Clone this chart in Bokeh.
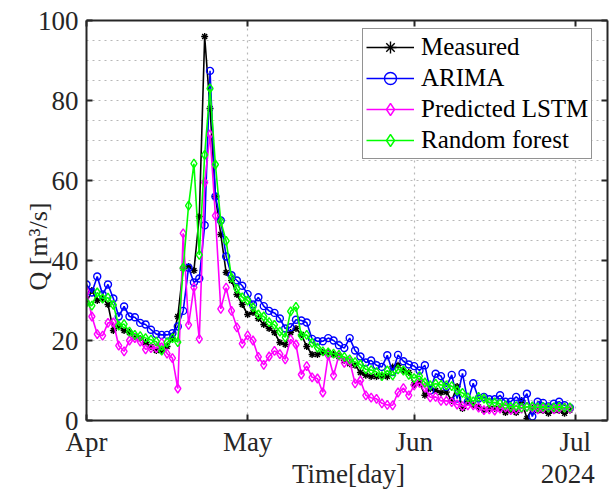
import pandas as pd
from bokeh.plotting import figure
from bokeh.models import (DatetimeAxis, LinearAxis, FixedTicker, Legend, LegendItem,
                          CustomJSTickFormatter)
from bokeh.embed import file_html
from bokeh.resources import INLINE

# ---------------- data ----------------
start_date = "2024-04-01"
n_days = 91
month_ticks = ["2024-04-01", "2024-05-01", "2024-06-01", "2024-07-01"]
month_labels = ["Apr", "May", "Jun", "Jul"]
# second text row: x-axis title and year
title_ticks = ["2024-05-19 19:00", "2024-06-29 14:00"]
title_labels = ["Time[day]", "2024"]
y_ticks = [0, 20, 40, 60, 80, 100]
y_title = "Q [m\u00b3/s]"
series_names = ["Measured", "ARIMA", "Predicted LSTM", "Random forest"]

measured = [29.5, 32.5, 30.0, 30.5, 29.0, 22.5, 23.5, 22.5, 22.0, 21.0,
            20.5, 19.5, 18.5, 17.5, 17.5, 18.5, 20.5, 26.0, 38.0, 38.5,
            37.5, 51.0, 96.0, 78.0, 56.0, 46.5, 37.0, 35.0, 31.5, 29.0,
            26.5, 27.0, 25.5, 24.0, 23.0, 22.0, 19.5, 19.0, 22.0, 23.0,
            21.5, 18.5, 16.5, 16.5, 17.0, 17.0, 16.5, 16.0, 15.0, 14.2,
            13.8, 12.0, 11.3, 11.0, 11.0, 11.2, 11.0, 13.4, 13.8, 12.5,
            12.0, 9.0, 9.5, 6.3, 8.0, 7.5, 7.0, 7.1, 5.0, 8.5,
            3.0, 4.7, 4.0, 3.4, 2.6, 3.0, 3.0, 3.0, 2.0, 2.5,
            2.0, 5.0, 0.5, 3.0, 2.5, 2.5, 1.8, 2.5, 2.5, 1.8, 2.6]

arima = [34.0, 32.0, 36.0, 31.5, 34.0, 30.5, 26.0, 28.5, 26.0, 25.8,
         24.4, 24.0, 22.7, 21.6, 21.4, 21.4, 21.8, 23.5, 27.4, 38.2,
         34.5, 35.5, 48.8, 87.4, 56.0, 50.0, 41.0, 36.3, 35.0, 33.7,
         31.6, 29.0, 30.8, 28.6, 27.4, 26.9, 25.5, 23.0, 23.3, 25.2,
         25.0, 24.5, 20.4, 19.8, 19.8, 20.6, 20.0, 18.8, 18.1, 20.6,
         17.5, 16.0, 14.5, 15.0, 13.8, 13.4, 16.3, 12.1, 16.4, 14.8,
         14.0, 13.6, 12.5, 13.8, 7.5, 11.7, 11.1, 8.4, 11.4, 5.5,
         11.8, 4.7, 9.3, 5.5, 5.9, 5.3, 5.3, 6.3, 4.7, 4.7,
         5.9, 4.7, 6.7, 1.0, 4.7, 4.4, 3.5, 4.2, 4.7, 3.8, 3.2]

lstm = [32.2, 26.0, 21.6, 21.2, 24.4, 24.5, 18.7, 17.3, 20.0, 20.6,
        19.7, 17.8, 18.1, 18.1, 19.4, 16.7, 15.6, 8.0, 46.8, 23.9,
        33.3, 20.4, 59.5, 71.5, 51.2, 27.9, 33.2, 27.4, 23.3, 19.2,
        21.3, 20.0, 15.9, 13.9, 16.0, 17.4, 16.6, 15.3, 20.3, 19.0,
        11.5, 13.6, 10.8, 10.5, 7.0, 16.3, 11.3, 16.3, 14.4, 14.8,
        9.3, 10.0, 6.3, 5.7, 5.4, 4.3, 3.9, 3.8, 7.0, 8.1,
        6.3, 8.8, 9.4, 8.2, 5.8, 5.9, 4.9, 4.9, 4.6, 4.0,
        3.6, 3.8, 3.8, 3.2, 2.6, 2.8, 2.5, 3.0, 3.2, 2.6,
        2.8, 3.0, 3.4, 3.2, 2.8, 3.0, 3.2, 2.8, 3.0, 3.2, 3.0]

rf = [29.5, 28.7, 32.0, 30.5, 30.7, 28.9, 23.7, 24.1, 22.2, 21.4,
      21.1, 20.6, 20.2, 19.7, 17.5, 19.5, 20.6, 19.6, 38.2, 53.7,
      64.2, 41.4, 66.4, 83.0, 64.0, 49.8, 44.9, 35.7, 32.9, 30.8,
      30.0, 28.3, 26.5, 26.0, 24.6, 23.9, 22.2, 20.8, 27.3, 28.4,
      21.2, 21.4, 19.4, 18.2, 17.3, 17.0, 16.7, 16.4, 15.9, 15.3,
      14.6, 14.0, 12.8, 12.6, 12.1, 11.1, 12.5, 11.3, 12.8, 12.5,
      11.4, 10.6, 11.1, 9.5, 8.8, 9.2, 8.9, 8.8, 8.6, 7.5,
      6.9, 5.8, 4.8, 5.9, 5.5, 4.5, 4.5, 4.2, 3.8, 3.4,
      3.6, 3.2, 3.4, 3.5, 3.3, 3.4, 3.2, 3.3, 3.4, 3.2, 3.3]

dates = pd.date_range(start_date, periods=n_days, freq="D")

# ---------------- figure ----------------
FONT = "Liberation Serif"
AX = "#262626"

x_start = pd.Timestamp("2024-04-01")
x_end = pd.Timestamp("2024-07-07")
tick_ms = [pd.Timestamp(t).timestamp() * 1000 for t in month_ticks]
title_ms = [pd.Timestamp(t).timestamp() * 1000 for t in title_ticks]

p = figure(width=609, height=491, x_axis_type="datetime",
           x_range=(x_start, x_end), y_range=(0, 100),
           output_backend="svg", toolbar_location=None,
           min_border_left=86, min_border_right=2, min_border_top=20,
           min_border_bottom=69)
p.outline_line_color = None
p.background_fill_color = "white"
p.border_fill_color = "white"

month_fmt = CustomJSTickFormatter(args=dict(labels=month_labels),
                                  code="return labels[index];")
title_fmt = CustomJSTickFormatter(args=dict(labels=title_labels),
                                  code="return labels[index];")
blank_fmt = CustomJSTickFormatter(code="return '';")

def style_axis(ax, show_labels=True, size="27px"):
    ax.axis_line_color = AX
    ax.axis_line_width = 2
    ax.major_tick_line_color = AX
    ax.major_tick_line_width = 2
    ax.major_tick_in = 6
    ax.major_tick_out = 0
    ax.minor_tick_in = 0
    ax.minor_tick_out = 0
    ax.major_label_text_font = FONT
    ax.major_label_text_color = AX
    ax.axis_label_text_font = FONT
    ax.axis_label_text_font_style = "normal"
    ax.axis_label_text_color = AX
    if show_labels:
        ax.major_label_text_font_size = size
    else:
        ax.formatter = blank_fmt
        ax.major_label_text_font_size = "0px"
        ax.major_label_standoff = 0

# bottom axis: line + inward tick marks only
xb = p.xaxis[0]
xb.ticker = FixedTicker(ticks=tick_ms)
style_axis(xb, show_labels=False)

# row 1 under the axis: month names
xm = DatetimeAxis(ticker=FixedTicker(ticks=tick_ms), formatter=month_fmt)
style_axis(xm)
xm.axis_line_color = None
xm.major_tick_line_color = None
xm.major_label_standoff = 6
xm.major_label_text_line_height = 1.0
p.add_layout(xm, "below")

# row 2: axis title and year
xy = DatetimeAxis(ticker=FixedTicker(ticks=title_ms), formatter=title_fmt)
style_axis(xy)
xy.axis_line_color = None
xy.major_tick_line_color = None
xy.major_label_standoff = -1
xy.major_label_text_line_height = 1.0
p.add_layout(xy, "below")

yl = p.yaxis[0]
yl.ticker = FixedTicker(ticks=y_ticks)
style_axis(yl)
yl.major_label_standoff = 8
yl.axis_label = y_title + "\u00a0" * 8
yl.axis_label_text_font_size = "26px"
yl.axis_label_standoff = -18

xt = DatetimeAxis(ticker=FixedTicker(ticks=tick_ms))
style_axis(xt, show_labels=False)
p.add_layout(xt, "above")

yr = LinearAxis(ticker=FixedTicker(ticks=y_ticks))
style_axis(yr, show_labels=False)
p.add_layout(yr, "right")

# grids (dotted)
p.xgrid.ticker = FixedTicker(ticks=tick_ms)
p.ygrid.ticker = FixedTicker(ticks=list(range(0, 101, 5)))
for g in (p.xgrid[0], p.ygrid[0]):
    g.grid_line_color = "#b8b8b8"
    g.grid_line_dash = "2 4"
    g.grid_line_width = 1.2

# ---------------- series ----------------
styles = [
    (measured, "#000000", "asterisk", 7),
    (arima, "#0000FF", "circle", 7),
    (lstm, "#FF00FF", "diamond", 9),
    (rf, "#00FF00", "diamond", 9),
]
items = []
for (vals, col, mk, sz), name in zip(styles, series_names):
    lr = p.line(dates, vals, line_color=col, line_width=1.6)
    sr = p.scatter(dates, vals, marker=mk, size=sz, line_color=col,
                   fill_color=None, line_width=1.4)
    items.append(LegendItem(label=name, renderers=[lr, sr]))

legend = Legend(items=items, location=(276, 261))
legend.label_text_font = FONT
legend.label_text_font_size = "25px"
legend.label_text_color = "#000000"
legend.border_line_color = AX
legend.border_line_width = 1.2
legend.background_fill_color = "white"
legend.background_fill_alpha = 1.0
legend.padding = 3
legend.spacing = 1
legend.margin = 0
legend.glyph_width = 48
legend.glyph_height = 30
legend.label_height = 30
legend.label_standoff = 7
p.add_layout(legend, "center")

open("out.html", "w").write(file_html(p, INLINE))
